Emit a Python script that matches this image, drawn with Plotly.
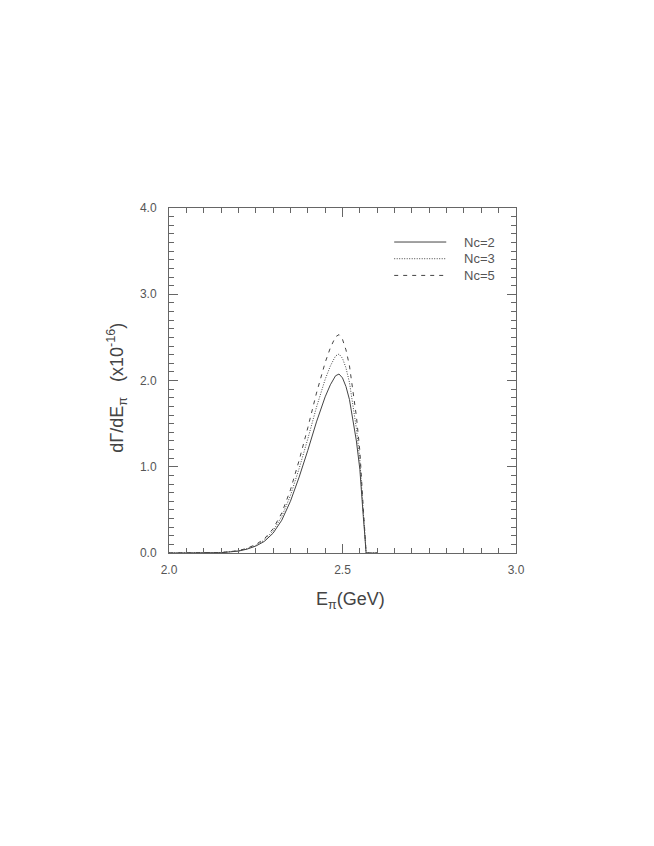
import plotly.graph_objects as go

# Pion energy (GeV)
E_pi = [2.00, 2.05, 2.10, 2.15, 2.20, 2.225, 2.25, 2.275, 2.30, 2.325, 2.35, 2.375,
        2.40, 2.425, 2.45, 2.465, 2.48, 2.49, 2.50, 2.51, 2.52, 2.53, 2.54, 2.55,
        2.555, 2.56, 2.564, 2.568, 2.58, 2.60]

# dGamma/dE_pi (x 1e-16)
nc2 = [0, 0, 0.0005, 0.004, 0.022, 0.045, 0.08, 0.135, 0.23, 0.38, 0.60, 0.88,
       1.19, 1.52, 1.81, 1.95, 2.055, 2.075, 2.03, 1.93, 1.78, 1.56, 1.30, 0.97,
       0.74, 0.42, 0.22, 0, 0, 0]
nc3 = [0, 0, 0.0006, 0.0045, 0.024, 0.050, 0.089, 0.150, 0.256, 0.423, 0.667, 0.979,
       1.323, 1.690, 2.013, 2.168, 2.285, 2.307, 2.257, 2.146, 1.979, 1.735, 1.446, 1.079,
       0.823, 0.467, 0.245, 0, 0, 0]
nc5 = [0, 0, 0.0006, 0.005, 0.027, 0.055, 0.098, 0.165, 0.281, 0.464, 0.732, 1.074,
       1.452, 1.854, 2.208, 2.379, 2.507, 2.532, 2.477, 2.355, 2.172, 1.903, 1.586, 1.183,
       0.903, 0.512, 0.268, 0, 0, 0]

series_names = ["Nc=2", "Nc=3", "Nc=5"]
x_ticks = [2.0, 2.5, 3.0]
x_tick_labels = ["2.0", "2.5", "3.0"]
y_ticks = [0, 1, 2, 3, 4]
y_tick_labels = ["0.0", "1.0", "2.0", "3.0", "4.0"]

line_col = "#444444"
axis_col = "#666666"
font_fam = "Liberation Sans, Arial, sans-serif"
dashes = ["solid", "1px,1.5px", "4px,5px"]

fig = go.Figure()
for name, ys, d in zip(series_names, [nc2, nc3, nc5], dashes):
    fig.add_trace(go.Scatter(x=E_pi, y=ys, mode="lines", name=name,
                             line=dict(color=line_col, width=1, dash=d),
                             showlegend=False))

# manual legend
leg_y = [0.9014, 0.853, 0.8046]
for name, d, yy in zip(series_names, dashes, leg_y):
    fig.add_shape(type="line", xref="paper", yref="paper",
                  x0=0.649, x1=0.799, y0=yy, y1=yy,
                  line=dict(color=line_col, width=1, dash=d))
    fig.add_annotation(xref="paper", yref="paper", x=0.845, y=yy, text=name,
                       showarrow=False, xanchor="left", yanchor="middle",
                       font=dict(family=font_fam, size=13, color="#555555"))

fig.add_annotation(xref="paper", yref="paper", x=0.5217, y=-0.137,
                   text="E<sub>π</sub>(GeV)", showarrow=False,
                   xanchor="center", yanchor="middle",
                   font=dict(family=font_fam, size=18, color="#444444"))
fig.add_annotation(xref="paper", yref="paper", x=-0.151, y=0.478,
                   text="dΓ/dE<sub>π</sub>   (x10<sup>-16</sup>)", showarrow=False,
                   textangle=-90, xanchor="center", yanchor="middle",
                   font=dict(family=font_fam, size=18, color="#444444"))

axis_common = dict(showgrid=False, zeroline=False, showline=True, linecolor=axis_col,
                   linewidth=1, mirror="ticks", ticks="inside", tickcolor=axis_col,
                   tickwidth=1, ticklen=9,
                   tickfont=dict(family=font_fam, size=12, color="#555555"))

fig.update_xaxes(range=[2.0, 3.0], tickvals=x_ticks, ticktext=x_tick_labels,
                 ticklabelstandoff=6,
                 minor=dict(dtick=0.05, ticks="inside", ticklen=5, tickcolor=axis_col,
                            tickwidth=1, showgrid=False),
                 **axis_common)
fig.update_yaxes(range=[0, 4.0], tickvals=y_ticks, ticktext=y_tick_labels,
                 ticklabelstandoff=9,
                 minor=dict(dtick=0.1, ticks="inside", ticklen=5, tickcolor=axis_col,
                            tickwidth=1, showgrid=False),
                 **axis_common)

fig.update_layout(width=654, height=846,
                  margin=dict(l=161, r=146, t=200, b=301, pad=0),
                  paper_bgcolor="white", plot_bgcolor="white")

fig.write_html("out.html")
